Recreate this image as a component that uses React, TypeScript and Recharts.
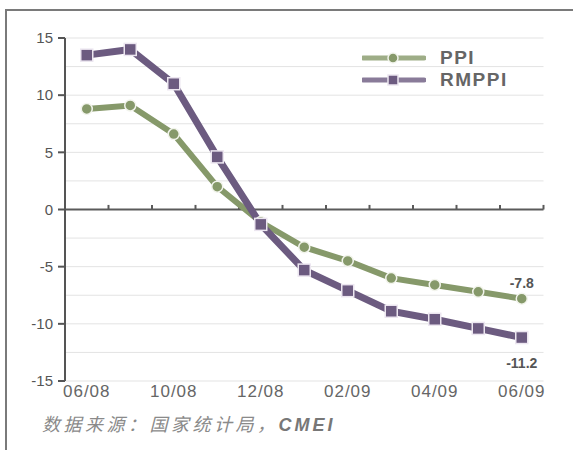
import {
  LineChart,
  Line,
  XAxis,
  YAxis,
  ReferenceLine,
  Legend,
} from "recharts";

const months = ["06/08", "09/08", "10/08", "11/08", "12/08", "01/09", "02/09", "03/09", "04/09", "05/09", "06/09"];
const ppi = [8.8, 9.1, 6.6, 2.0, -1.1, -3.3, -4.5, -6.0, -6.6, -7.2, -7.8];
const rmppi = [13.5, 14.0, 11.0, 4.6, -1.3, -5.3, -7.1, -8.9, -9.6, -10.4, -11.2];
const yTicks = [-15, -10, -5, 0, 5, 10, 15];
const gridValues = [-15, -12.5, -10, -7.5, -5, -2.5, 2.5, 5, 7.5, 10, 12.5, 15];
const labelIdx = [0, 2, 4, 6, 8, 10];

const GREEN = "#86996a";
const PURPLE = "#6c5b80";
const FONT = "'Liberation Sans', Arial, sans-serif";

const data = months.map((m, i) => ({ i, month: m, ppi: ppi[i], rmppi: rmppi[i] }));
// tick marks sit between the months, on the zero line
const boundaries = [-0.5, ...months.map((_, i) => i + 0.5)];
const last = months.length - 1;

function SquareDot(props: any) {
  const { cx, cy } = props;
  if (cx == null || cy == null) return null;
  return <rect x={cx - 6} y={cy - 6} width={12} height={12} fill={PURPLE} stroke="#ece6f0" strokeWidth={1.5} />;
}

const endLabel = (dy: number) => (props: any) => {
  const { x, y, value, index } = props;
  if (index !== undefined && index !== last) return null;
  if (index === undefined && value !== ppi[last] && value !== rmppi[last]) return null;
  return (
    <text
      x={x}
      y={y + dy}
      textAnchor="middle"
      dominantBaseline="central"
      fontFamily={FONT}
      fontWeight="bold"
      fontSize={14}
      fill="#555"
    >
      {Number(value).toFixed(1)}
    </text>
  );
};

function LegendBox({ payload }: any) {
  return (
    <div style={{ fontFamily: FONT }}>
      {(payload || []).map((entry: any) => (
        <div key={entry.value} style={{ display: "flex", alignItems: "center", height: 22 }}>
          <svg width={64} height={14}>
            <line x1={1} y1={7} x2={62} y2={7} stroke={entry.color} strokeWidth={5} strokeLinecap="round" opacity={0.8} />
            {entry.dataKey === "ppi" ? (
              <circle cx={31} cy={7} r={5} fill={GREEN} stroke="#f2f4ec" strokeWidth={1.5} />
            ) : (
              <rect x={26} y={2} width={10} height={10} fill={PURPLE} stroke="#ece6f0" strokeWidth={1.5} />
            )}
          </svg>
          <span style={{ marginLeft: 14, fontSize: 19, fontWeight: "bold", color: "#666", letterSpacing: 1.5 }}>
            {entry.value}
          </span>
        </div>
      ))}
    </div>
  );
}

export default function App() {
  return (
    <div style={{ position: "relative", width: 573, height: 450, overflow: "hidden", background: "#fff" }}>
      <style>{`body{margin:0}`}</style>
      <div
        style={{
          position: "absolute",
          left: 5,
          top: 9,
          width: 620,
          height: 500,
          border: "2px solid #7a7a7a",
        }}
      />
      <LineChart
        width={573}
        height={450}
        data={data}
        margin={{ top: 38, right: 29.5, bottom: 39, left: 15 }}
        style={{ position: "absolute", left: 0, top: 0 }}
      >
        <XAxis
          dataKey="i"
          type="number"
          domain={[-0.5, 10.5]}
          ticks={labelIdx}
          tickFormatter={(v: number) => months[v]}
          axisLine={false}
          tickLine={false}
          tickSize={0}
          tickMargin={4}
          height={30}
          tick={{ fill: "#666", fontSize: 17, fontFamily: FONT, letterSpacing: 1 }}
        />
        <YAxis
          domain={[-15, 15]}
          ticks={yTicks}
          width={50}
          tickSize={7}
          tickMargin={5}
          axisLine={{ stroke: "#555", strokeWidth: 2 }}
          tickLine={{ stroke: "#555", strokeWidth: 2 }}
          tick={{ fill: "#555", fontSize: 15, fontFamily: FONT }}
        />
        {gridValues.map((v) => (
          <ReferenceLine key={v} y={v} stroke="#e3e3e3" strokeWidth={1} />
        ))}
        <ReferenceLine y={0} stroke="#5a5a5a" strokeWidth={2} />
        {boundaries.map((b) => (
          <ReferenceLine
            key={b}
            segment={[
              { x: b, y: 0 },
              { x: b, y: 0.4 },
            ]}
            stroke="#5a5a5a"
            strokeWidth={2}
          />
        ))}
        <Legend
          layout="vertical"
          align="center"
          verticalAlign="middle"
          content={<LegendBox />}
          wrapperStyle={{ position: "absolute", left: 362, top: 47, width: 200 }}
        />
        <Line
          dataKey="ppi"
          name="PPI"
          stroke={GREEN}
          strokeWidth={6}
          dot={{ r: 5.5, fill: GREEN, stroke: "#f2f4ec", strokeWidth: 1.5 }}
          label={endLabel(-16)}
          isAnimationActive={false}
        />
        <Line
          dataKey="rmppi"
          name="RMPPI"
          stroke={PURPLE}
          strokeWidth={7}
          dot={<SquareDot />}
          label={endLabel(25)}
          isAnimationActive={false}
        />
      </LineChart>
      <div
        style={{
          position: "absolute",
          left: 42,
          top: 410,
          fontSize: 18,
          fontStyle: "italic",
          color: "#8a8a8a",
          letterSpacing: 3.5,
          fontFamily: "'Noto Sans CJK SC', sans-serif",
          whiteSpace: "nowrap",
        }}
      >
        数据来源：国家统计局，
        <span style={{ fontFamily: FONT, fontWeight: "bold", letterSpacing: 3, color: "#777" }}>CMEI</span>
      </div>
    </div>
  );
}
